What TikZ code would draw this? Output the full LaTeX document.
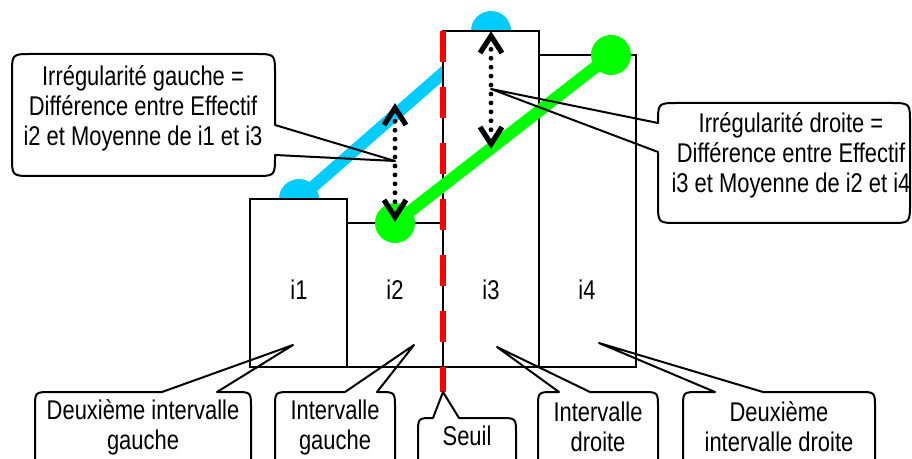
\documentclass[tikz,border=0pt]{standalone}
\usepackage{fontspec}
\setmainfont{Liberation Sans}[FakeStretch=0.81]
\definecolor{cyanline}{HTML}{00CCFF}
\definecolor{greenline}{HTML}{00FF00}
\definecolor{redline}{HTML}{FF0000}
\tikzset{
  bar/.style={draw=black, fill=white, line width=1.5pt},
  txt/.style={align=center, inner sep=0pt, font=\fontsize{20.3}{22.5}\selectfont},
  callout/.style={draw=black, line width=1.5pt, line join=round},
  thickline/.style={line width=9pt},
  chev/.style={draw=black, line width=3.9pt, line join=miter, line cap=butt},
  dotline/.style={line width=3.6pt, dash pattern=on 0pt off 6.7pt, line cap=round, shorten <=10pt, shorten >=10pt},
  seuilline/.style={draw=redline, line width=4.5pt, dash pattern=on 23.25pt off 18.75pt}
}
\begin{document}
\begin{tikzpicture}[x=0.75pt,y=-0.75pt]
\useasboundingbox (0,0) rectangle (912,459);
\begin{scope}
\clip (0,0) rectangle (912,459);
% key points
\coordinate (b1) at (299,199);
\coordinate (b3) at (491,31);
\coordinate (g2) at (395,223);
\coordinate (g4) at (611,55);
% blue average line (behind bars)
\draw[cyanline, thickline] (b1) -- (b3);
\fill[cyanline] (b1) circle[radius=15pt];
\fill[cyanline] (b3) circle[radius=15pt];
% bars
\draw[bar] (250,199) rectangle (347,367);
\draw[bar] (347,223) rectangle (443,367);
\draw[bar] (443,31) rectangle (539,367);
\draw[bar] (539,55) rectangle (636,367);
\node[txt] (i1) at (299,290) {i1};
\node[txt] (i2) at (395,290) {i2};
\node[txt] (i3) at (491,290) {i3};
\node[txt] (i4) at (587,290) {i4};
% green average line (front)
\draw[greenline, thickline] (g2) -- (g4);
\fill[greenline] (g2) circle[radius=15pt];
\fill[greenline] (g4) circle[radius=15pt];
% threshold
\coordinate (s1) at (443,31);
\coordinate (s2) at (443,392);
\draw[seuilline] (s1) -- (s2);
% dotted double arrows
\coordinate (la1) at (395,108);
\coordinate (la2) at (395,217);
\coordinate (ra1) at (491,36);
\coordinate (ra2) at (491,144);
\draw[dotline] (la1) -- (la2);
\draw[dotline] (ra1) -- (ra2);
\draw[chev] ([shift={(-11,17)}]la1) -- (la1) -- ([shift={(11,17)}]la1);
\draw[chev] ([shift={(-11,-17)}]la2) -- (la2) -- ([shift={(11,-17)}]la2);
\draw[chev] ([shift={(-11,17)}]ra1) -- (ra1) -- ([shift={(11,17)}]ra1);
\draw[chev] ([shift={(-11,-17)}]ra2) -- (ra2) -- ([shift={(11,-17)}]ra2);
% callout tips
\coordinate (lt) at (395,161);
\coordinate (rt) at (491,89);
\coordinate (c1t) at (293,345);
\coordinate (c2t) at (414,345);
\coordinate (c3t) at (443,392);
\coordinate (c4t) at (497,347);
\coordinate (c5t) at (599,343);
% left callout
\draw[callout] (32,54) -- (255,54) .. controls (275,54) .. (275,74) -- (275,125) -- (lt) -- (275,155) -- (275,156) .. controls (275,176) .. (255,176) -- (32,176) .. controls (12,176) .. (12,156) -- (12,74) .. controls (12,54) .. (32,54) -- cycle;
\node[txt] (lc) at (143,108) {Irrégularité gauche =\\Différence entre Effectif\\i2 et Moyenne de i1 et i3};
% right callout
\draw[callout] (678,103) -- (890,103) .. controls (910,103) .. (910,123) -- (910,203) .. controls (910,223) .. (890,223) -- (678,223) .. controls (658,223) .. (658,203) -- (658,152) -- (rt) -- (658,123) .. controls (658,103) .. (678,103) -- cycle;
\node[txt] (rc) at (791,155) {Irrégularité droite =\\Différence entre Effectif\\i3 et Moyenne de i2 et i4};
% bottom callouts
\draw[callout] (35,480) -- (35,408) .. controls (35,392) .. (51,392) -- (162,392) -- (c1t) -- (217,392) -- (235,392) .. controls (251,392) .. (251,408) -- (251,480);
\node[txt] (c1) at (143,427) {Deuxième intervalle\\gauche};
\draw[callout] (275,480) -- (275,408) .. controls (275,392) .. (291,392) -- (345,392) -- (c2t) -- (377,392) -- (379,392) .. controls (395,392) .. (395,408) -- (395,480);
\node[txt] (c2) at (335,427) {Intervalle\\gauche};
\draw[callout] (418,480) -- (418,434) .. controls (418,418) .. (433,418) -- (c3t) -- (459,418) -- (500,418) .. controls (516,418) .. (516,434) -- (516,480);
\node[txt] (c3) at (467,436) {Seuil};
\draw[callout] (538,480) -- (538,408) .. controls (538,392) .. (554,392) -- (559,392) -- (c4t) -- (590,392) -- (642,392) .. controls (658,392) .. (658,408) -- (658,480);
\node[txt] (c4) at (598,427) {Intervalle\\droite};
\draw[callout] (683,480) -- (683,408) .. controls (683,392) .. (699,392) -- (715,392) -- (c5t) -- (763,392) -- (859,392) .. controls (875,392) .. (875,408) -- (875,480);
\node[txt] (c5) at (779,427) {Deuxième\\intervalle droite};
\end{scope}
\end{tikzpicture}
\end{document}
